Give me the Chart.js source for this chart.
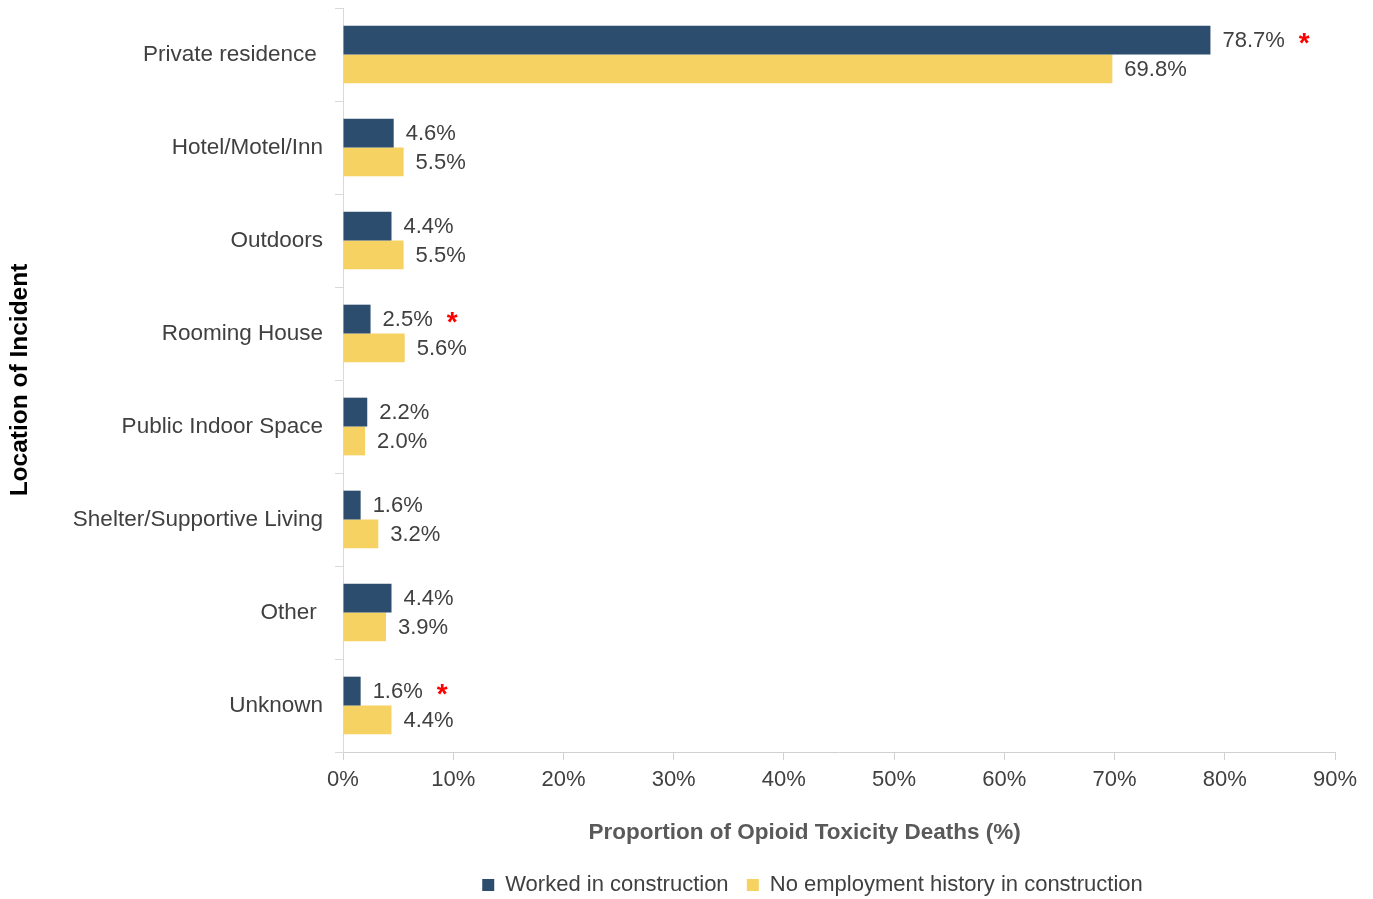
<!DOCTYPE html>
<html>
<head>
<meta charset="utf-8">
<script src="https://cdn.jsdelivr.net/npm/chart.js@4.4.0/dist/chart.umd.min.js"></script>
<style>
  body { margin: 0; background: #fff; }
  canvas { display: block; }
</style>
</head>
<body>
<canvas id="myChart" width="1373" height="899"></canvas>
<script>
// data
const locations = [
  "Private residence ",
  "Hotel/Motel/Inn",
  "Outdoors",
  "Rooming House",
  "Public Indoor Space",
  "Shelter/Supportive Living",
  "Other ",
  "Unknown"
];
const workedConstruction = [78.7, 4.6, 4.4, 2.5, 2.2, 1.6, 4.4, 1.6];
const noConstruction = [69.8, 5.5, 5.5, 5.6, 2.0, 3.2, 3.9, 4.4];
// red asterisk next to the "worked" label
const significant = [true, false, false, true, false, false, false, true];
const xTicks = [0, 10, 20, 30, 40, 50, 60, 70, 80, 90];

const fontFamily = "'Liberation Sans', Arial, sans-serif";

// for value labels
const valueLabels = {
  id: "valueLabels",
  afterDatasetsDraw(chart) {
    const ctx = chart.ctx;
    ctx.save();
    ctx.textBaseline = "middle";
    ctx.textAlign = "left";
    chart.data.datasets.forEach((ds, i) => {
      const meta = chart.getDatasetMeta(i);
      meta.data.forEach((bar, j) => {
        const text = ds.data[j].toFixed(1) + "%";
        ctx.font = "22px " + fontFamily;
        ctx.fillStyle = "#404040";
        const x = bar.x + 12;
        ctx.fillText(text, x, bar.y + 1);
        if (i === 0 && significant[j]) {
          const w = ctx.measureText(text).width;
          ctx.font = "bold 28px " + fontFamily;
          ctx.fillStyle = "#ff0000";
          ctx.fillText("*", x + w + 14, bar.y + 4);
        }
      });
    });
    ctx.restore();
  }
};

// move legend to sit under the plot like the original
const legendShift = {
  id: "legendShift",
  afterLayout(chart) {
    const lg = chart.legend;
    if (lg) {
      lg.left += 145;
      lg.right += 145;
      lg.top += 7;
      lg.bottom += 7;
    }
  }
};

document.addEventListener("DOMContentLoaded", function () {
  const ctx = document.getElementById("myChart").getContext("2d");

  new Chart(ctx, {
    type: "bar",
    data: {
      labels: locations,
      datasets: [
        {
          label: "Worked in construction  ",
          data: workedConstruction,
          backgroundColor: "#2D4D6F",
          categoryPercentage: 0.62,
          barPercentage: 1.0
        },
        {
          label: "No employment history in construction",
          data: noConstruction,
          backgroundColor: "#F6D263",
          categoryPercentage: 0.62,
          barPercentage: 1.0
        }
      ]
    },
    options: {
      indexAxis: "y",
      responsive: false,
      animation: false,
      layout: {
        padding: { top: 8, right: 38, left: 0, bottom: 0 }
      },
      plugins: {
        legend: {
          position: "bottom",
          labels: {
            boxWidth: 12,
            boxHeight: 12,
            color: "#404040",
            font: { family: fontFamily, size: 22 },
            padding: 6
          }
        },
        tooltip: { enabled: false }
      },
      scales: {
        x: {
          min: 0,
          max: 90,
          afterBuildTicks: function (scale) {
            scale.ticks = xTicks.map(v => ({ value: v }));
          },
          afterFit: function (scale) {
            scale.height = 109;
          },
          ticks: {
            color: "#404040",
            font: { family: fontFamily, size: 22 },
            padding: 7,
            callback: v => v + "%"
          },
          grid: {
            drawOnChartArea: false,
            tickLength: 8,
            color: "#d0d0d0"
          },
          border: { color: "#d0d0d0" },
          title: {
            display: true,
            text: "Proportion of Opioid Toxicity Deaths (%)           ",
            color: "#595959",
            font: { family: fontFamily, size: 22.5, weight: "bold" },
            padding: { top: 0, bottom: 15 }
          }
        },
        y: {
          afterFit: function (scale) {
            scale.width = 343;
            scale.paddingTop = 0;
            scale.paddingBottom = 0;
          },
          ticks: {
            color: "#404040",
            font: { family: fontFamily, size: 22.5 },
            padding: 12
          },
          grid: {
            offset: true,
            drawOnChartArea: false,
            tickLength: 8,
            color: "#d9d9d9"
          },
          border: { color: "#d9d9d9" },
          title: {
            display: true,
            text: "Location of Incident",
            color: "#000000",
            font: { family: fontFamily, size: 24.5, weight: "bold" },
            padding: { top: 6, bottom: 0 }
          }
        }
      }
    },
    plugins: [valueLabels, legendShift]
  });
});
</script>
</body>
</html>
